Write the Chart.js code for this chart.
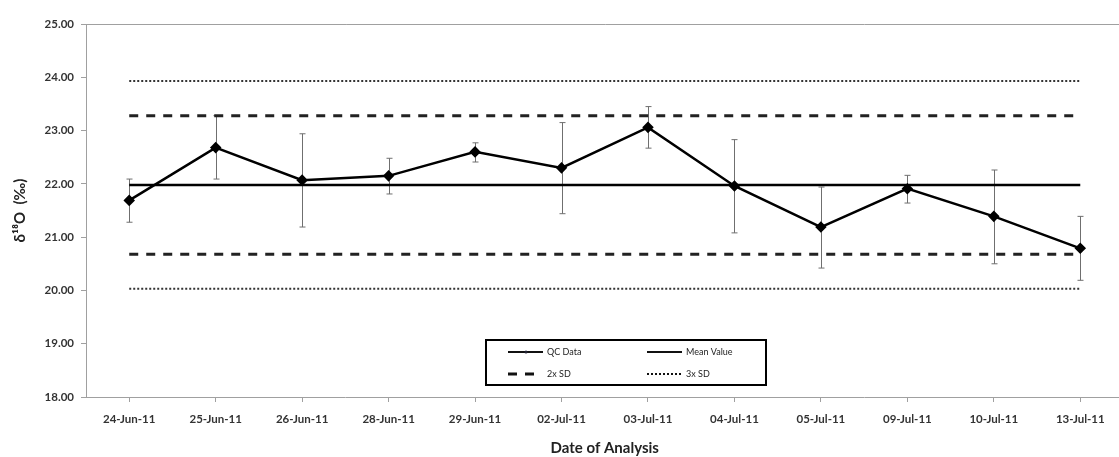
<!DOCTYPE html>
<html>
<head>
<meta charset="utf-8">
<script src="https://cdn.jsdelivr.net/npm/chart.js@4/dist/chart.umd.min.js"></script>
<style>
  html, body { margin: 0; padding: 0; background: #fff; overflow: hidden; }
  #wrap { width: 1130px; height: 457px; }
</style>
</head>
<body>
<div id="wrap"><canvas id="qc" width="1130" height="457"></canvas></div>
<script>
// analysis dates
const dates = ['24-Jun-11', '25-Jun-11', '26-Jun-11', '28-Jun-11', '29-Jun-11', '02-Jul-11',
  '03-Jul-11', '04-Jul-11', '05-Jul-11', '09-Jul-11', '10-Jul-11', '13-Jul-11'];

// QC standard d18O and error bar limits
const qcValues = [21.69, 22.68, 22.07, 22.15, 22.60, 22.30, 23.06, 21.96, 21.19, 21.91, 21.39, 20.79];
const errHigh  = [22.09, 23.28, 22.94, 22.48, 22.77, 23.15, 23.45, 22.83, 21.94, 22.16, 22.26, 21.39];
const errLow   = [21.28, 22.09, 21.19, 21.81, 22.41, 21.44, 22.67, 21.08, 20.42, 21.64, 20.50, 20.19];

// control limits
const meanValue = 21.98;
const sd2High = 23.28, sd2Low = 20.68;
const sd3High = 23.93, sd3Low = 20.03;

const yTicks = [18, 19, 20, 21, 22, 23, 24, 25];

const flat = v => dates.map(() => v);
const FONT = 'Lato, "Liberation Sans", sans-serif';

const errorBars = {
  id: 'errorBars',
  beforeDatasetsDraw(chart) {
    const { ctx, scales: { x, y } } = chart;
    ctx.save();
    ctx.strokeStyle = '#6f6f6f';
    ctx.lineWidth = 1;
    dates.forEach((d, i) => {
      const px = Math.round(x.getPixelForValue(i)) + 0.5;
      const top = y.getPixelForValue(errHigh[i]);
      const bot = y.getPixelForValue(errLow[i]);
      ctx.beginPath();
      ctx.moveTo(px, top); ctx.lineTo(px, bot);
      ctx.moveTo(px - 3, top); ctx.lineTo(px + 3, top);
      ctx.moveTo(px - 3, bot); ctx.lineTo(px + 3, bot);
      ctx.stroke();
    });
    ctx.restore();
  }
};

// boxed legend inside the plot, two columns
const boxLegend = {
  id: 'boxLegend',
  afterDraw(chart) {
    const ctx = chart.ctx;
    ctx.save();
    ctx.strokeStyle = '#000';
    ctx.lineWidth = 2;
    ctx.strokeRect(486, 340, 280, 45);
    const items = [
      { text: 'QC Data', x: 508, y: 352, len: 35, dash: [], w: 2, marker: true },
      { text: 'Mean Value', x: 647, y: 352, len: 35, dash: [], w: 2 },
      { text: '2x SD', x: 508, y: 374, len: 26, dash: [9, 8], w: 3 },
      { text: '3x SD', x: 647, y: 374, len: 35, dash: [2, 2], w: 2 }
    ];
    ctx.font = '9px ' + FONT;
    ctx.textBaseline = 'middle';
    items.forEach(it => {
      ctx.beginPath();
      ctx.setLineDash(it.dash);
      ctx.lineWidth = it.w;
      ctx.strokeStyle = '#111';
      ctx.moveTo(it.x, it.y);
      ctx.lineTo(it.x + it.len, it.y);
      ctx.stroke();
      ctx.setLineDash([]);
      if (it.marker) {
        ctx.fillStyle = '#223';
        ctx.beginPath();
        ctx.arc(it.x + 18, it.y, 1.5, 0, Math.PI * 2);
        ctx.fill();
      }
      ctx.fillStyle = '#222';
      ctx.fillText(it.text, it.x + 39, it.y);
    });
    ctx.restore();
  }
};

new Chart(document.getElementById('qc'), {
  type: 'line',
  data: {
    labels: dates,
    datasets: [
      { label: '3x SD upper', data: flat(sd3High), borderColor: '#333', borderWidth: 2, borderDash: [2, 2], pointRadius: 0 },
      { label: '3x SD lower', data: flat(sd3Low), borderColor: '#333', borderWidth: 2, borderDash: [2, 2], pointRadius: 0 },
      { label: '2x SD upper', data: flat(sd2High), borderColor: '#222', borderWidth: 3, borderDash: [9, 8], pointRadius: 0 },
      { label: '2x SD lower', data: flat(sd2Low), borderColor: '#222', borderWidth: 3, borderDash: [9, 8], pointRadius: 0 },
      { label: 'Mean Value', data: flat(meanValue), borderColor: '#000', borderWidth: 2.5, pointRadius: 0 },
      {
        label: 'QC Data', data: qcValues, borderColor: '#000', borderWidth: 2.5,
        pointStyle: 'rectRot', pointRadius: 4, pointBackgroundColor: '#000', pointBorderColor: '#000'
      }
    ]
  },
  options: {
    responsive: false,
    animation: false,
    devicePixelRatio: 1,
    layout: { padding: { top: 24, right: 2, left: 0, bottom: 0 } },
    plugins: { legend: { display: false }, tooltip: { enabled: false } },
    scales: {
      x: {
        offset: true,
        border: { color: '#a0a0a0', width: 1 },
        grid: { color: 'transparent', tickColor: '#a0a0a0', tickLength: 5 },
        ticks: { color: '#333', padding: 10, maxRotation: 0, font: { family: FONT, size: 11.5, weight: 'bold' } },
        title: {
          display: true, text: 'Date of Analysis', color: '#222',
          padding: { top: 0, bottom: 0 }, font: { family: FONT, size: 15, weight: 'bold' }
        },
        afterFit: s => { s.height = 60; }
      },
      y: {
        min: 18, max: 25,
        afterBuildTicks: s => { s.ticks = yTicks.map(v => ({ value: v })); },
        border: { color: '#a0a0a0', width: 1 },
        grid: {
          color: c => (c.tick && c.tick.value === 25 ? '#a0a0a0' : 'transparent'),
          tickColor: '#a0a0a0', tickLength: 5
        },
        ticks: {
          color: '#333', padding: 7, font: { family: FONT, size: 11.5, weight: 'bold' },
          callback: v => Number(v).toFixed(2)
        },
        title: {
          display: true, text: 'δ¹⁸O  (‰)', color: '#222',
          padding: { top: 11, bottom: 0 }, font: { family: FONT, size: 15, weight: 'bold' }
        },
        afterFit: s => { s.width = 86; }
      }
    }
  },
  plugins: [errorBars, boxLegend]
});
</script>
</body>
</html>
